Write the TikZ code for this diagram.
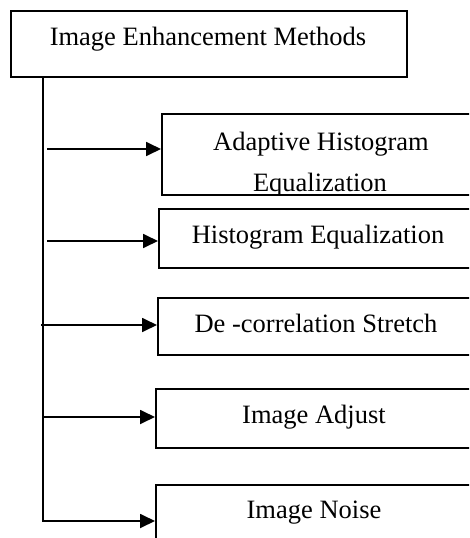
\documentclass[tikz,border=0pt]{standalone}
\usepackage{fontspec}
\setmainfont{Liberation Serif}
\usetikzlibrary{arrows.meta}
\tikzset{
  frame/.style={draw, line width=1.8pt, inner sep=0pt, anchor=north west},
  lbl/.style={inner sep=0pt, anchor=base, font=\fontsize{26.5}{32}\selectfont},
  link/.style={line width=1.8pt},
  arr/.style={line width=1.8pt, -{Triangle[length=15pt,width=14pt]}}
}
\begin{document}
\begin{tikzpicture}[x=1pt,y=-1pt]
\useasboundingbox (0,0) rectangle (469,538);
\clip (0,0) rectangle (469,538);

% root box
\node[frame, minimum width=396pt, minimum height=66pt] (root) at (10,10) {};
\node[lbl] (troot) at (208,45) {Image Enhancement Methods};

% method boxes
\node[frame, minimum width=320pt, minimum height=81pt] (b1) at (161,113) {};
\node[frame, minimum width=320pt, minimum height=59pt] (b2) at (158,208) {};
\node[frame, minimum width=318pt, minimum height=57pt] (b3) at (157,297) {};
\node[frame, minimum width=318pt, minimum height=59pt] (b4) at (155,388) {};
\node[frame, minimum width=318pt, minimum height=59pt] (b5) at (155,484) {};

% labels
\begin{scope}
  \clip (b1.north west) rectangle (b1.south east);
  \node[lbl] (t1a) at (321,150) {Adaptive Histogram};
  \node[lbl] (t1b) at (320,191) {Equalization};
\end{scope}
\node[lbl] (t2) at (318,243) {Histogram Equalization};
\node[lbl] (t3) at (316,332) {De -correlation Stretch};
\node[lbl] (t4) at (314,423) {Image Adjust};
\node[lbl] (t5) at (314,518) {Image Noise};

% trunk
\coordinate (v0) at (43,76);
\coordinate (v1) at (43,522);
\draw[link] (v0 |- root.south) -- (v1);

% branch starts
\coordinate (s1) at (47,149);
\coordinate (s2) at (47,241);
\coordinate (s3) at (41,325);
\coordinate (s4) at (44,417);
\coordinate (s5) at (42,521);

\draw[arr] (s1) -- (s1 -| b1.west);
\draw[arr] (s2) -- (s2 -| b2.west);
\draw[arr] (s3) -- (s3 -| b3.west);
\draw[arr] (s4) -- (s4 -| b4.west);
\draw[arr] (s5) -- (s5 -| b5.west);
\end{tikzpicture}
\end{document}
